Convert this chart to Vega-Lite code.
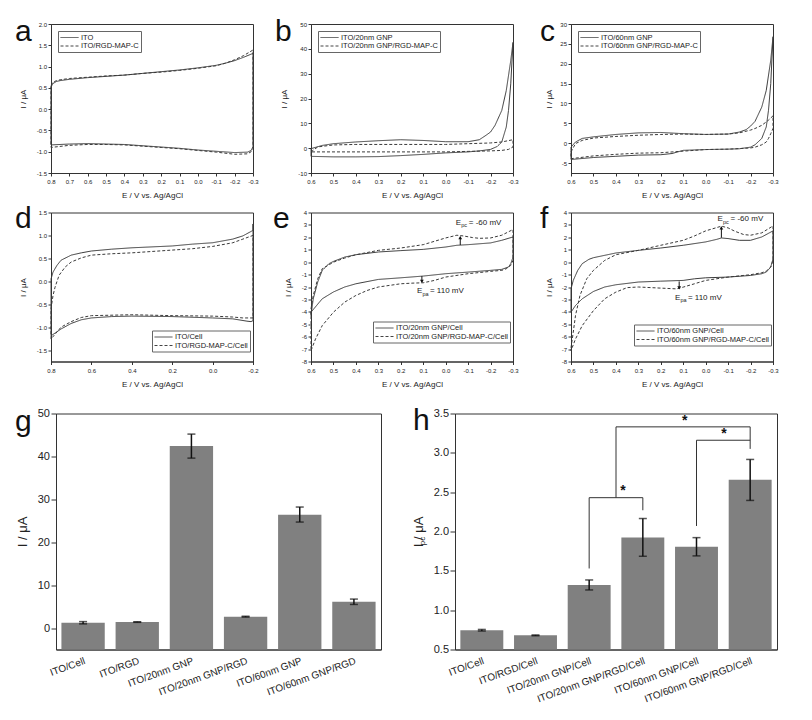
{
"$schema": "https://vega.github.io/schema/vega-lite/v6.json",
"padding": {"left": 14, "top": 16, "right": 0, "bottom": 0},
"background": "white",
"datasets": {
"a": [
{"s":"ITO","i":0,"E":0.8,"I":0.52},{"s":"ITO","i":1,"E":0.79,"I":0.6},{"s":"ITO","i":2,"E":0.77,"I":0.65},{"s":"ITO","i":3,"E":0.75,"I":0.67},{"s":"ITO","i":4,"E":0.7,"I":0.7},{"s":"ITO","i":5,"E":0.6,"I":0.74},{"s":"ITO","i":6,"E":0.5,"I":0.77},{"s":"ITO","i":7,"E":0.4,"I":0.8},{"s":"ITO","i":8,"E":0.3,"I":0.84},{"s":"ITO","i":9,"E":0.2,"I":0.88},{"s":"ITO","i":10,"E":0.1,"I":0.92},{"s":"ITO","i":11,"E":0.0,"I":0.97},{"s":"ITO","i":12,"E":-0.1,"I":1.03},{"s":"ITO","i":13,"E":-0.15,"I":1.08},{"s":"ITO","i":14,"E":-0.2,"I":1.14},{"s":"ITO","i":15,"E":-0.25,"I":1.22},{"s":"ITO","i":16,"E":-0.3,"I":1.31},{"s":"ITO","i":17,"E":-0.3,"I":-0.88},{"s":"ITO","i":18,"E":-0.29,"I":-0.97},{"s":"ITO","i":19,"E":-0.27,"I":-1.01},{"s":"ITO","i":20,"E":-0.2,"I":-1.02},{"s":"ITO","i":21,"E":-0.1,"I":-0.99},{"s":"ITO","i":22,"E":0.0,"I":-0.96},{"s":"ITO","i":23,"E":0.1,"I":-0.92},{"s":"ITO","i":24,"E":0.2,"I":-0.89},{"s":"ITO","i":25,"E":0.3,"I":-0.86},{"s":"ITO","i":26,"E":0.4,"I":-0.83},{"s":"ITO","i":27,"E":0.5,"I":-0.82},{"s":"ITO","i":28,"E":0.6,"I":-0.81},{"s":"ITO","i":29,"E":0.7,"I":-0.82},{"s":"ITO","i":30,"E":0.8,"I":-0.84},{"s":"ITO","i":31,"E":0.8,"I":0.52},
{"s":"ITO/RGD-MAP-C","i":0,"E":0.8,"I":0.56},{"s":"ITO/RGD-MAP-C","i":1,"E":0.79,"I":0.63},{"s":"ITO/RGD-MAP-C","i":2,"E":0.77,"I":0.67},{"s":"ITO/RGD-MAP-C","i":3,"E":0.75,"I":0.69},{"s":"ITO/RGD-MAP-C","i":4,"E":0.7,"I":0.72},{"s":"ITO/RGD-MAP-C","i":5,"E":0.6,"I":0.75},{"s":"ITO/RGD-MAP-C","i":6,"E":0.5,"I":0.78},{"s":"ITO/RGD-MAP-C","i":7,"E":0.4,"I":0.8},{"s":"ITO/RGD-MAP-C","i":8,"E":0.3,"I":0.84},{"s":"ITO/RGD-MAP-C","i":9,"E":0.2,"I":0.87},{"s":"ITO/RGD-MAP-C","i":10,"E":0.1,"I":0.91},{"s":"ITO/RGD-MAP-C","i":11,"E":0.0,"I":0.96},{"s":"ITO/RGD-MAP-C","i":12,"E":-0.1,"I":1.02},{"s":"ITO/RGD-MAP-C","i":13,"E":-0.15,"I":1.08},{"s":"ITO/RGD-MAP-C","i":14,"E":-0.2,"I":1.16},{"s":"ITO/RGD-MAP-C","i":15,"E":-0.25,"I":1.26},{"s":"ITO/RGD-MAP-C","i":16,"E":-0.3,"I":1.39},{"s":"ITO/RGD-MAP-C","i":17,"E":-0.3,"I":-0.92},{"s":"ITO/RGD-MAP-C","i":18,"E":-0.29,"I":-1.0},{"s":"ITO/RGD-MAP-C","i":19,"E":-0.27,"I":-1.05},{"s":"ITO/RGD-MAP-C","i":20,"E":-0.2,"I":-1.06},{"s":"ITO/RGD-MAP-C","i":21,"E":-0.1,"I":-1.01},{"s":"ITO/RGD-MAP-C","i":22,"E":0.0,"I":-0.97},{"s":"ITO/RGD-MAP-C","i":23,"E":0.1,"I":-0.93},{"s":"ITO/RGD-MAP-C","i":24,"E":0.2,"I":-0.9},{"s":"ITO/RGD-MAP-C","i":25,"E":0.3,"I":-0.87},{"s":"ITO/RGD-MAP-C","i":26,"E":0.4,"I":-0.84},{"s":"ITO/RGD-MAP-C","i":27,"E":0.5,"I":-0.83},{"s":"ITO/RGD-MAP-C","i":28,"E":0.6,"I":-0.83},{"s":"ITO/RGD-MAP-C","i":29,"E":0.7,"I":-0.85},{"s":"ITO/RGD-MAP-C","i":30,"E":0.8,"I":-0.9},{"s":"ITO/RGD-MAP-C","i":31,"E":0.8,"I":0.56}
],
"b": [
{"s":"ITO/20nm GNP","i":0,"E":0.6,"I":-0.2},{"s":"ITO/20nm GNP","i":1,"E":0.55,"I":1.1},{"s":"ITO/20nm GNP","i":2,"E":0.5,"I":1.8},{"s":"ITO/20nm GNP","i":3,"E":0.4,"I":2.5},{"s":"ITO/20nm GNP","i":4,"E":0.3,"I":3.0},{"s":"ITO/20nm GNP","i":5,"E":0.2,"I":3.4},{"s":"ITO/20nm GNP","i":6,"E":0.1,"I":3.1},{"s":"ITO/20nm GNP","i":7,"E":0.0,"I":2.6},{"s":"ITO/20nm GNP","i":8,"E":-0.1,"I":2.6},{"s":"ITO/20nm GNP","i":9,"E":-0.15,"I":3.4},{"s":"ITO/20nm GNP","i":10,"E":-0.18,"I":5.2},{"s":"ITO/20nm GNP","i":11,"E":-0.2,"I":6.5},{"s":"ITO/20nm GNP","i":12,"E":-0.22,"I":9.2},{"s":"ITO/20nm GNP","i":13,"E":-0.25,"I":15.2},{"s":"ITO/20nm GNP","i":14,"E":-0.27,"I":23.2},{"s":"ITO/20nm GNP","i":15,"E":-0.29,"I":35.3},{"s":"ITO/20nm GNP","i":16,"E":-0.3,"I":42.6},{"s":"ITO/20nm GNP","i":17,"E":-0.29,"I":25.9},{"s":"ITO/20nm GNP","i":18,"E":-0.28,"I":15.2},{"s":"ITO/20nm GNP","i":19,"E":-0.27,"I":8.5},{"s":"ITO/20nm GNP","i":20,"E":-0.25,"I":2.5},{"s":"ITO/20nm GNP","i":21,"E":-0.23,"I":0.7},{"s":"ITO/20nm GNP","i":22,"E":-0.2,"I":-0.5},{"s":"ITO/20nm GNP","i":23,"E":-0.15,"I":-1.1},{"s":"ITO/20nm GNP","i":24,"E":-0.1,"I":-1.5},{"s":"ITO/20nm GNP","i":25,"E":0.0,"I":-1.9},{"s":"ITO/20nm GNP","i":26,"E":0.1,"I":-2.5},{"s":"ITO/20nm GNP","i":27,"E":0.2,"I":-3.0},{"s":"ITO/20nm GNP","i":28,"E":0.3,"I":-3.4},{"s":"ITO/20nm GNP","i":29,"E":0.4,"I":-3.5},{"s":"ITO/20nm GNP","i":30,"E":0.5,"I":-3.5},{"s":"ITO/20nm GNP","i":31,"E":0.6,"I":-3.3},{"s":"ITO/20nm GNP","i":32,"E":0.6,"I":-0.2},
{"s":"ITO/20nm GNP/RGD-MAP-C","i":0,"E":0.6,"I":-1.5},{"s":"ITO/20nm GNP/RGD-MAP-C","i":1,"E":0.57,"I":0.5},{"s":"ITO/20nm GNP/RGD-MAP-C","i":2,"E":0.5,"I":1.3},{"s":"ITO/20nm GNP/RGD-MAP-C","i":3,"E":0.4,"I":1.5},{"s":"ITO/20nm GNP/RGD-MAP-C","i":4,"E":0.2,"I":1.5},{"s":"ITO/20nm GNP/RGD-MAP-C","i":5,"E":0.0,"I":1.5},{"s":"ITO/20nm GNP/RGD-MAP-C","i":6,"E":-0.1,"I":1.8},{"s":"ITO/20nm GNP/RGD-MAP-C","i":7,"E":-0.2,"I":2.1},{"s":"ITO/20nm GNP/RGD-MAP-C","i":8,"E":-0.25,"I":2.5},{"s":"ITO/20nm GNP/RGD-MAP-C","i":9,"E":-0.3,"I":3.4},{"s":"ITO/20nm GNP/RGD-MAP-C","i":10,"E":-0.3,"I":0.5},{"s":"ITO/20nm GNP/RGD-MAP-C","i":11,"E":-0.28,"I":-0.5},{"s":"ITO/20nm GNP/RGD-MAP-C","i":12,"E":-0.25,"I":-0.9},{"s":"ITO/20nm GNP/RGD-MAP-C","i":13,"E":-0.2,"I":-1.1},{"s":"ITO/20nm GNP/RGD-MAP-C","i":14,"E":-0.1,"I":-1.3},{"s":"ITO/20nm GNP/RGD-MAP-C","i":15,"E":0.0,"I":-1.5},{"s":"ITO/20nm GNP/RGD-MAP-C","i":16,"E":0.2,"I":-1.5},{"s":"ITO/20nm GNP/RGD-MAP-C","i":17,"E":0.4,"I":-1.5},{"s":"ITO/20nm GNP/RGD-MAP-C","i":18,"E":0.6,"I":-1.5}
],
"c": [
{"s":"ITO/60nm GNP","i":0,"E":0.6,"I":-1.0},{"s":"ITO/60nm GNP","i":1,"E":0.58,"I":0.3},{"s":"ITO/60nm GNP","i":2,"E":0.55,"I":1.2},{"s":"ITO/60nm GNP","i":3,"E":0.5,"I":1.6},{"s":"ITO/60nm GNP","i":4,"E":0.4,"I":2.2},{"s":"ITO/60nm GNP","i":5,"E":0.3,"I":2.6},{"s":"ITO/60nm GNP","i":6,"E":0.2,"I":2.7},{"s":"ITO/60nm GNP","i":7,"E":0.1,"I":2.4},{"s":"ITO/60nm GNP","i":8,"E":0.0,"I":2.2},{"s":"ITO/60nm GNP","i":9,"E":-0.1,"I":2.3},{"s":"ITO/60nm GNP","i":10,"E":-0.15,"I":2.8},{"s":"ITO/60nm GNP","i":11,"E":-0.18,"I":3.4},{"s":"ITO/60nm GNP","i":12,"E":-0.2,"I":4.3},{"s":"ITO/60nm GNP","i":13,"E":-0.22,"I":5.5},{"s":"ITO/60nm GNP","i":14,"E":-0.25,"I":9.1},{"s":"ITO/60nm GNP","i":15,"E":-0.27,"I":13.3},{"s":"ITO/60nm GNP","i":16,"E":-0.29,"I":20.9},{"s":"ITO/60nm GNP","i":17,"E":-0.3,"I":26.8},{"s":"ITO/60nm GNP","i":18,"E":-0.29,"I":15.0},{"s":"ITO/60nm GNP","i":19,"E":-0.28,"I":8.3},{"s":"ITO/60nm GNP","i":20,"E":-0.27,"I":4.1},{"s":"ITO/60nm GNP","i":21,"E":-0.25,"I":1.2},{"s":"ITO/60nm GNP","i":22,"E":-0.22,"I":-0.4},{"s":"ITO/60nm GNP","i":23,"E":-0.2,"I":-1.0},{"s":"ITO/60nm GNP","i":24,"E":-0.15,"I":-1.4},{"s":"ITO/60nm GNP","i":25,"E":-0.1,"I":-1.5},{"s":"ITO/60nm GNP","i":26,"E":0.0,"I":-1.6},{"s":"ITO/60nm GNP","i":27,"E":0.1,"I":-1.8},{"s":"ITO/60nm GNP","i":28,"E":0.15,"I":-2.6},{"s":"ITO/60nm GNP","i":29,"E":0.2,"I":-2.9},{"s":"ITO/60nm GNP","i":30,"E":0.3,"I":-3.0},{"s":"ITO/60nm GNP","i":31,"E":0.4,"I":-3.3},{"s":"ITO/60nm GNP","i":32,"E":0.5,"I":-3.6},{"s":"ITO/60nm GNP","i":33,"E":0.6,"I":-4.1},{"s":"ITO/60nm GNP","i":34,"E":0.6,"I":-1.0},
{"s":"ITO/60nm GNP/RGD-MAP-C","i":0,"E":0.6,"I":-2.2},{"s":"ITO/60nm GNP/RGD-MAP-C","i":1,"E":0.58,"I":-0.1},{"s":"ITO/60nm GNP/RGD-MAP-C","i":2,"E":0.55,"I":0.7},{"s":"ITO/60nm GNP/RGD-MAP-C","i":3,"E":0.5,"I":1.3},{"s":"ITO/60nm GNP/RGD-MAP-C","i":4,"E":0.4,"I":1.7},{"s":"ITO/60nm GNP/RGD-MAP-C","i":5,"E":0.3,"I":2.0},{"s":"ITO/60nm GNP/RGD-MAP-C","i":6,"E":0.2,"I":2.2},{"s":"ITO/60nm GNP/RGD-MAP-C","i":7,"E":0.1,"I":2.3},{"s":"ITO/60nm GNP/RGD-MAP-C","i":8,"E":0.0,"I":2.2},{"s":"ITO/60nm GNP/RGD-MAP-C","i":9,"E":-0.1,"I":2.3},{"s":"ITO/60nm GNP/RGD-MAP-C","i":10,"E":-0.15,"I":2.6},{"s":"ITO/60nm GNP/RGD-MAP-C","i":11,"E":-0.2,"I":3.3},{"s":"ITO/60nm GNP/RGD-MAP-C","i":12,"E":-0.22,"I":3.7},{"s":"ITO/60nm GNP/RGD-MAP-C","i":13,"E":-0.25,"I":4.5},{"s":"ITO/60nm GNP/RGD-MAP-C","i":14,"E":-0.28,"I":5.8},{"s":"ITO/60nm GNP/RGD-MAP-C","i":15,"E":-0.3,"I":6.9},{"s":"ITO/60nm GNP/RGD-MAP-C","i":16,"E":-0.3,"I":3.7},{"s":"ITO/60nm GNP/RGD-MAP-C","i":17,"E":-0.29,"I":2.4},{"s":"ITO/60nm GNP/RGD-MAP-C","i":18,"E":-0.28,"I":1.2},{"s":"ITO/60nm GNP/RGD-MAP-C","i":19,"E":-0.27,"I":0.3},{"s":"ITO/60nm GNP/RGD-MAP-C","i":20,"E":-0.25,"I":-0.4},{"s":"ITO/60nm GNP/RGD-MAP-C","i":21,"E":-0.22,"I":-1.0},{"s":"ITO/60nm GNP/RGD-MAP-C","i":22,"E":-0.2,"I":-1.2},{"s":"ITO/60nm GNP/RGD-MAP-C","i":23,"E":-0.1,"I":-1.5},{"s":"ITO/60nm GNP/RGD-MAP-C","i":24,"E":0.0,"I":-1.6},{"s":"ITO/60nm GNP/RGD-MAP-C","i":25,"E":0.1,"I":-2.0},{"s":"ITO/60nm GNP/RGD-MAP-C","i":26,"E":0.2,"I":-2.4},{"s":"ITO/60nm GNP/RGD-MAP-C","i":27,"E":0.3,"I":-2.5},{"s":"ITO/60nm GNP/RGD-MAP-C","i":28,"E":0.4,"I":-2.8},{"s":"ITO/60nm GNP/RGD-MAP-C","i":29,"E":0.5,"I":-3.2},{"s":"ITO/60nm GNP/RGD-MAP-C","i":30,"E":0.6,"I":-3.9},{"s":"ITO/60nm GNP/RGD-MAP-C","i":31,"E":0.6,"I":-2.2}
],
"d": [
{"s":"ITO/Cell","i":0,"E":0.8,"I":0.05},{"s":"ITO/Cell","i":1,"E":0.79,"I":0.2},{"s":"ITO/Cell","i":2,"E":0.77,"I":0.35},{"s":"ITO/Cell","i":3,"E":0.75,"I":0.46},{"s":"ITO/Cell","i":4,"E":0.7,"I":0.57},{"s":"ITO/Cell","i":5,"E":0.65,"I":0.62},{"s":"ITO/Cell","i":6,"E":0.6,"I":0.66},{"s":"ITO/Cell","i":7,"E":0.5,"I":0.7},{"s":"ITO/Cell","i":8,"E":0.4,"I":0.73},{"s":"ITO/Cell","i":9,"E":0.3,"I":0.75},{"s":"ITO/Cell","i":10,"E":0.2,"I":0.77},{"s":"ITO/Cell","i":11,"E":0.1,"I":0.81},{"s":"ITO/Cell","i":12,"E":0.0,"I":0.84},{"s":"ITO/Cell","i":13,"E":-0.1,"I":0.92},{"s":"ITO/Cell","i":14,"E":-0.15,"I":0.99},{"s":"ITO/Cell","i":15,"E":-0.2,"I":1.11},{"s":"ITO/Cell","i":16,"E":-0.2,"I":1.25},{"s":"ITO/Cell","i":17,"E":-0.2,"I":-0.86},{"s":"ITO/Cell","i":18,"E":-0.19,"I":-0.88},{"s":"ITO/Cell","i":19,"E":-0.17,"I":-0.87},{"s":"ITO/Cell","i":20,"E":-0.1,"I":-0.82},{"s":"ITO/Cell","i":21,"E":0.0,"I":-0.8},{"s":"ITO/Cell","i":22,"E":0.2,"I":-0.77},{"s":"ITO/Cell","i":23,"E":0.4,"I":-0.76},{"s":"ITO/Cell","i":24,"E":0.5,"I":-0.77},{"s":"ITO/Cell","i":25,"E":0.6,"I":-0.8},{"s":"ITO/Cell","i":26,"E":0.65,"I":-0.84},{"s":"ITO/Cell","i":27,"E":0.7,"I":-0.92},{"s":"ITO/Cell","i":28,"E":0.75,"I":-1.04},{"s":"ITO/Cell","i":29,"E":0.8,"I":-1.19},{"s":"ITO/Cell","i":30,"E":0.8,"I":0.05},
{"s":"ITO/RGD-MAP-C/Cell","i":0,"E":0.8,"I":-0.6},{"s":"ITO/RGD-MAP-C/Cell","i":1,"E":0.79,"I":-0.31},{"s":"ITO/RGD-MAP-C/Cell","i":2,"E":0.78,"I":-0.13},{"s":"ITO/RGD-MAP-C/Cell","i":3,"E":0.76,"I":0.13},{"s":"ITO/RGD-MAP-C/Cell","i":4,"E":0.73,"I":0.31},{"s":"ITO/RGD-MAP-C/Cell","i":5,"E":0.7,"I":0.42},{"s":"ITO/RGD-MAP-C/Cell","i":6,"E":0.65,"I":0.51},{"s":"ITO/RGD-MAP-C/Cell","i":7,"E":0.6,"I":0.57},{"s":"ITO/RGD-MAP-C/Cell","i":8,"E":0.5,"I":0.6},{"s":"ITO/RGD-MAP-C/Cell","i":9,"E":0.4,"I":0.62},{"s":"ITO/RGD-MAP-C/Cell","i":10,"E":0.3,"I":0.65},{"s":"ITO/RGD-MAP-C/Cell","i":11,"E":0.2,"I":0.68},{"s":"ITO/RGD-MAP-C/Cell","i":12,"E":0.1,"I":0.71},{"s":"ITO/RGD-MAP-C/Cell","i":13,"E":0.0,"I":0.76},{"s":"ITO/RGD-MAP-C/Cell","i":14,"E":-0.1,"I":0.84},{"s":"ITO/RGD-MAP-C/Cell","i":15,"E":-0.15,"I":0.92},{"s":"ITO/RGD-MAP-C/Cell","i":16,"E":-0.2,"I":1.0},{"s":"ITO/RGD-MAP-C/Cell","i":17,"E":-0.2,"I":-0.8},{"s":"ITO/RGD-MAP-C/Cell","i":18,"E":-0.15,"I":-0.8},{"s":"ITO/RGD-MAP-C/Cell","i":19,"E":-0.1,"I":-0.78},{"s":"ITO/RGD-MAP-C/Cell","i":20,"E":0.0,"I":-0.76},{"s":"ITO/RGD-MAP-C/Cell","i":21,"E":0.2,"I":-0.75},{"s":"ITO/RGD-MAP-C/Cell","i":22,"E":0.4,"I":-0.73},{"s":"ITO/RGD-MAP-C/Cell","i":23,"E":0.6,"I":-0.75},{"s":"ITO/RGD-MAP-C/Cell","i":24,"E":0.65,"I":-0.79},{"s":"ITO/RGD-MAP-C/Cell","i":25,"E":0.7,"I":-0.88},{"s":"ITO/RGD-MAP-C/Cell","i":26,"E":0.75,"I":-1.0},{"s":"ITO/RGD-MAP-C/Cell","i":27,"E":0.8,"I":-1.26},{"s":"ITO/RGD-MAP-C/Cell","i":28,"E":0.8,"I":-0.6}
],
"e": [
{"s":"ITO/20nm GNP/Cell","i":0,"E":0.6,"I":-4.3},{"s":"ITO/20nm GNP/Cell","i":1,"E":0.59,"I":-2.95},{"s":"ITO/20nm GNP/Cell","i":2,"E":0.57,"I":-1.6},{"s":"ITO/20nm GNP/Cell","i":3,"E":0.55,"I":-0.66},{"s":"ITO/20nm GNP/Cell","i":4,"E":0.52,"I":-0.12},{"s":"ITO/20nm GNP/Cell","i":5,"E":0.5,"I":0.06},{"s":"ITO/20nm GNP/Cell","i":6,"E":0.45,"I":0.41},{"s":"ITO/20nm GNP/Cell","i":7,"E":0.4,"I":0.6},{"s":"ITO/20nm GNP/Cell","i":8,"E":0.3,"I":0.82},{"s":"ITO/20nm GNP/Cell","i":9,"E":0.2,"I":0.93},{"s":"ITO/20nm GNP/Cell","i":10,"E":0.1,"I":1.03},{"s":"ITO/20nm GNP/Cell","i":11,"E":0.0,"I":1.22},{"s":"ITO/20nm GNP/Cell","i":12,"E":-0.05,"I":1.36},{"s":"ITO/20nm GNP/Cell","i":13,"E":-0.1,"I":1.41},{"s":"ITO/20nm GNP/Cell","i":14,"E":-0.2,"I":1.55},{"s":"ITO/20nm GNP/Cell","i":15,"E":-0.25,"I":1.76},{"s":"ITO/20nm GNP/Cell","i":16,"E":-0.3,"I":2.03},{"s":"ITO/20nm GNP/Cell","i":17,"E":-0.3,"I":0.41},{"s":"ITO/20nm GNP/Cell","i":18,"E":-0.29,"I":-0.12},{"s":"ITO/20nm GNP/Cell","i":19,"E":-0.28,"I":-0.39},{"s":"ITO/20nm GNP/Cell","i":20,"E":-0.25,"I":-0.58},{"s":"ITO/20nm GNP/Cell","i":21,"E":-0.2,"I":-0.66},{"s":"ITO/20nm GNP/Cell","i":22,"E":-0.1,"I":-0.8},{"s":"ITO/20nm GNP/Cell","i":23,"E":0.0,"I":-0.93},{"s":"ITO/20nm GNP/Cell","i":24,"E":0.1,"I":-1.12},{"s":"ITO/20nm GNP/Cell","i":25,"E":0.2,"I":-1.26},{"s":"ITO/20nm GNP/Cell","i":26,"E":0.3,"I":-1.39},{"s":"ITO/20nm GNP/Cell","i":27,"E":0.4,"I":-1.74},{"s":"ITO/20nm GNP/Cell","i":28,"E":0.45,"I":-2.0},{"s":"ITO/20nm GNP/Cell","i":29,"E":0.5,"I":-2.4},{"s":"ITO/20nm GNP/Cell","i":30,"E":0.55,"I":-2.95},{"s":"ITO/20nm GNP/Cell","i":31,"E":0.6,"I":-4.03},{"s":"ITO/20nm GNP/Cell","i":32,"E":0.6,"I":-4.3},
{"s":"ITO/20nm GNP/RGD-MAP-C/Cell","i":0,"E":0.6,"I":-3.76},{"s":"ITO/20nm GNP/RGD-MAP-C/Cell","i":1,"E":0.59,"I":-2.68},{"s":"ITO/20nm GNP/RGD-MAP-C/Cell","i":2,"E":0.57,"I":-1.34},{"s":"ITO/20nm GNP/RGD-MAP-C/Cell","i":3,"E":0.55,"I":-0.53},{"s":"ITO/20nm GNP/RGD-MAP-C/Cell","i":4,"E":0.5,"I":0.0},{"s":"ITO/20nm GNP/RGD-MAP-C/Cell","i":5,"E":0.45,"I":0.33},{"s":"ITO/20nm GNP/RGD-MAP-C/Cell","i":6,"E":0.4,"I":0.6},{"s":"ITO/20nm GNP/RGD-MAP-C/Cell","i":7,"E":0.3,"I":0.95},{"s":"ITO/20nm GNP/RGD-MAP-C/Cell","i":8,"E":0.2,"I":1.14},{"s":"ITO/20nm GNP/RGD-MAP-C/Cell","i":9,"E":0.1,"I":1.41},{"s":"ITO/20nm GNP/RGD-MAP-C/Cell","i":10,"E":0.05,"I":1.68},{"s":"ITO/20nm GNP/RGD-MAP-C/Cell","i":11,"E":0.0,"I":1.95},{"s":"ITO/20nm GNP/RGD-MAP-C/Cell","i":12,"E":-0.05,"I":2.17},{"s":"ITO/20nm GNP/RGD-MAP-C/Cell","i":13,"E":-0.08,"I":2.11},{"s":"ITO/20nm GNP/RGD-MAP-C/Cell","i":14,"E":-0.12,"I":1.98},{"s":"ITO/20nm GNP/RGD-MAP-C/Cell","i":15,"E":-0.15,"I":1.92},{"s":"ITO/20nm GNP/RGD-MAP-C/Cell","i":16,"E":-0.2,"I":1.95},{"s":"ITO/20nm GNP/RGD-MAP-C/Cell","i":17,"E":-0.25,"I":2.17},{"s":"ITO/20nm GNP/RGD-MAP-C/Cell","i":18,"E":-0.3,"I":2.63},{"s":"ITO/20nm GNP/RGD-MAP-C/Cell","i":19,"E":-0.3,"I":0.14},{"s":"ITO/20nm GNP/RGD-MAP-C/Cell","i":20,"E":-0.29,"I":-0.26},{"s":"ITO/20nm GNP/RGD-MAP-C/Cell","i":21,"E":-0.27,"I":-0.53},{"s":"ITO/20nm GNP/RGD-MAP-C/Cell","i":22,"E":-0.25,"I":-0.66},{"s":"ITO/20nm GNP/RGD-MAP-C/Cell","i":23,"E":-0.2,"I":-0.74},{"s":"ITO/20nm GNP/RGD-MAP-C/Cell","i":24,"E":-0.1,"I":-0.93},{"s":"ITO/20nm GNP/RGD-MAP-C/Cell","i":25,"E":0.0,"I":-1.2},{"s":"ITO/20nm GNP/RGD-MAP-C/Cell","i":26,"E":0.05,"I":-1.47},{"s":"ITO/20nm GNP/RGD-MAP-C/Cell","i":27,"E":0.1,"I":-1.66},{"s":"ITO/20nm GNP/RGD-MAP-C/Cell","i":28,"E":0.15,"I":-1.69},{"s":"ITO/20nm GNP/RGD-MAP-C/Cell","i":29,"E":0.2,"I":-1.74},{"s":"ITO/20nm GNP/RGD-MAP-C/Cell","i":30,"E":0.3,"I":-2.0},{"s":"ITO/20nm GNP/RGD-MAP-C/Cell","i":31,"E":0.35,"I":-2.28},{"s":"ITO/20nm GNP/RGD-MAP-C/Cell","i":32,"E":0.4,"I":-2.68},{"s":"ITO/20nm GNP/RGD-MAP-C/Cell","i":33,"E":0.45,"I":-3.22},{"s":"ITO/20nm GNP/RGD-MAP-C/Cell","i":34,"E":0.5,"I":-4.03},{"s":"ITO/20nm GNP/RGD-MAP-C/Cell","i":35,"E":0.55,"I":-5.11},{"s":"ITO/20nm GNP/RGD-MAP-C/Cell","i":36,"E":0.58,"I":-6.19},{"s":"ITO/20nm GNP/RGD-MAP-C/Cell","i":37,"E":0.6,"I":-7.13},{"s":"ITO/20nm GNP/RGD-MAP-C/Cell","i":38,"E":0.6,"I":-3.76}
],
"f": [
{"s":"ITO/60nm GNP/Cell","i":0,"E":0.6,"I":-2.15},{"s":"ITO/60nm GNP/Cell","i":1,"E":0.59,"I":-1.47},{"s":"ITO/60nm GNP/Cell","i":2,"E":0.57,"I":-0.66},{"s":"ITO/60nm GNP/Cell","i":3,"E":0.55,"I":-0.12},{"s":"ITO/60nm GNP/Cell","i":4,"E":0.52,"I":0.23},{"s":"ITO/60nm GNP/Cell","i":5,"E":0.5,"I":0.36},{"s":"ITO/60nm GNP/Cell","i":6,"E":0.45,"I":0.55},{"s":"ITO/60nm GNP/Cell","i":7,"E":0.4,"I":0.74},{"s":"ITO/60nm GNP/Cell","i":8,"E":0.3,"I":0.95},{"s":"ITO/60nm GNP/Cell","i":9,"E":0.2,"I":1.14},{"s":"ITO/60nm GNP/Cell","i":10,"E":0.1,"I":1.36},{"s":"ITO/60nm GNP/Cell","i":11,"E":0.0,"I":1.63},{"s":"ITO/60nm GNP/Cell","i":12,"E":-0.05,"I":1.84},{"s":"ITO/60nm GNP/Cell","i":13,"E":-0.07,"I":1.95},{"s":"ITO/60nm GNP/Cell","i":14,"E":-0.1,"I":1.9},{"s":"ITO/60nm GNP/Cell","i":15,"E":-0.15,"I":1.76},{"s":"ITO/60nm GNP/Cell","i":16,"E":-0.2,"I":1.76},{"s":"ITO/60nm GNP/Cell","i":17,"E":-0.25,"I":2.03},{"s":"ITO/60nm GNP/Cell","i":18,"E":-0.3,"I":2.52},{"s":"ITO/60nm GNP/Cell","i":19,"E":-0.3,"I":0.28},{"s":"ITO/60nm GNP/Cell","i":20,"E":-0.29,"I":-0.39},{"s":"ITO/60nm GNP/Cell","i":21,"E":-0.27,"I":-0.8},{"s":"ITO/60nm GNP/Cell","i":22,"E":-0.25,"I":-0.93},{"s":"ITO/60nm GNP/Cell","i":23,"E":-0.2,"I":-1.07},{"s":"ITO/60nm GNP/Cell","i":24,"E":-0.1,"I":-1.2},{"s":"ITO/60nm GNP/Cell","i":25,"E":0.0,"I":-1.26},{"s":"ITO/60nm GNP/Cell","i":26,"E":0.05,"I":-1.34},{"s":"ITO/60nm GNP/Cell","i":27,"E":0.1,"I":-1.47},{"s":"ITO/60nm GNP/Cell","i":28,"E":0.2,"I":-1.53},{"s":"ITO/60nm GNP/Cell","i":29,"E":0.3,"I":-1.6},{"s":"ITO/60nm GNP/Cell","i":30,"E":0.4,"I":-1.82},{"s":"ITO/60nm GNP/Cell","i":31,"E":0.45,"I":-2.0},{"s":"ITO/60nm GNP/Cell","i":32,"E":0.5,"I":-2.36},{"s":"ITO/60nm GNP/Cell","i":33,"E":0.55,"I":-2.95},{"s":"ITO/60nm GNP/Cell","i":34,"E":0.58,"I":-3.49},{"s":"ITO/60nm GNP/Cell","i":35,"E":0.6,"I":-4.03},{"s":"ITO/60nm GNP/Cell","i":36,"E":0.6,"I":-2.15},
{"s":"ITO/60nm GNP/RGD-MAP-C/Cell","i":0,"E":0.6,"I":-6.9},{"s":"ITO/60nm GNP/RGD-MAP-C/Cell","i":1,"E":0.59,"I":-5.65},{"s":"ITO/60nm GNP/RGD-MAP-C/Cell","i":2,"E":0.58,"I":-4.3},{"s":"ITO/60nm GNP/RGD-MAP-C/Cell","i":3,"E":0.56,"I":-2.68},{"s":"ITO/60nm GNP/RGD-MAP-C/Cell","i":4,"E":0.53,"I":-1.34},{"s":"ITO/60nm GNP/RGD-MAP-C/Cell","i":5,"E":0.5,"I":-0.66},{"s":"ITO/60nm GNP/RGD-MAP-C/Cell","i":6,"E":0.45,"I":0.14},{"s":"ITO/60nm GNP/RGD-MAP-C/Cell","i":7,"E":0.4,"I":0.6},{"s":"ITO/60nm GNP/RGD-MAP-C/Cell","i":8,"E":0.3,"I":0.95},{"s":"ITO/60nm GNP/RGD-MAP-C/Cell","i":9,"E":0.2,"I":1.36},{"s":"ITO/60nm GNP/RGD-MAP-C/Cell","i":10,"E":0.1,"I":1.76},{"s":"ITO/60nm GNP/RGD-MAP-C/Cell","i":11,"E":0.05,"I":2.11},{"s":"ITO/60nm GNP/RGD-MAP-C/Cell","i":12,"E":0.0,"I":2.52},{"s":"ITO/60nm GNP/RGD-MAP-C/Cell","i":13,"E":-0.05,"I":2.79},{"s":"ITO/60nm GNP/RGD-MAP-C/Cell","i":14,"E":-0.07,"I":2.9},{"s":"ITO/60nm GNP/RGD-MAP-C/Cell","i":15,"E":-0.1,"I":2.76},{"s":"ITO/60nm GNP/RGD-MAP-C/Cell","i":16,"E":-0.13,"I":2.49},{"s":"ITO/60nm GNP/RGD-MAP-C/Cell","i":17,"E":-0.17,"I":2.22},{"s":"ITO/60nm GNP/RGD-MAP-C/Cell","i":18,"E":-0.2,"I":2.17},{"s":"ITO/60nm GNP/RGD-MAP-C/Cell","i":19,"E":-0.25,"I":2.36},{"s":"ITO/60nm GNP/RGD-MAP-C/Cell","i":20,"E":-0.3,"I":2.92},{"s":"ITO/60nm GNP/RGD-MAP-C/Cell","i":21,"E":-0.3,"I":0.14},{"s":"ITO/60nm GNP/RGD-MAP-C/Cell","i":22,"E":-0.29,"I":-0.39},{"s":"ITO/60nm GNP/RGD-MAP-C/Cell","i":23,"E":-0.27,"I":-0.72},{"s":"ITO/60nm GNP/RGD-MAP-C/Cell","i":24,"E":-0.25,"I":-0.85},{"s":"ITO/60nm GNP/RGD-MAP-C/Cell","i":25,"E":-0.2,"I":-1.01},{"s":"ITO/60nm GNP/RGD-MAP-C/Cell","i":26,"E":-0.1,"I":-1.2},{"s":"ITO/60nm GNP/RGD-MAP-C/Cell","i":27,"E":0.0,"I":-1.47},{"s":"ITO/60nm GNP/RGD-MAP-C/Cell","i":28,"E":0.05,"I":-1.74},{"s":"ITO/60nm GNP/RGD-MAP-C/Cell","i":29,"E":0.1,"I":-2.01},{"s":"ITO/60nm GNP/RGD-MAP-C/Cell","i":30,"E":0.13,"I":-2.15},{"s":"ITO/60nm GNP/RGD-MAP-C/Cell","i":31,"E":0.2,"I":-2.09},{"s":"ITO/60nm GNP/RGD-MAP-C/Cell","i":32,"E":0.3,"I":-2.0},{"s":"ITO/60nm GNP/RGD-MAP-C/Cell","i":33,"E":0.35,"I":-2.05},{"s":"ITO/60nm GNP/RGD-MAP-C/Cell","i":34,"E":0.4,"I":-2.41},{"s":"ITO/60nm GNP/RGD-MAP-C/Cell","i":35,"E":0.45,"I":-2.95},{"s":"ITO/60nm GNP/RGD-MAP-C/Cell","i":36,"E":0.5,"I":-3.9},{"s":"ITO/60nm GNP/RGD-MAP-C/Cell","i":37,"E":0.55,"I":-5.11},{"s":"ITO/60nm GNP/RGD-MAP-C/Cell","i":38,"E":0.58,"I":-6.19},{"s":"ITO/60nm GNP/RGD-MAP-C/Cell","i":39,"E":0.6,"I":-7.13},{"s":"ITO/60nm GNP/RGD-MAP-C/Cell","i":40,"E":0.6,"I":-6.9}
],
"arr_e": [{"x":-0.065,"y":1.38,"y2":2.04,"hy":1.98,"d":"up"},{"x":0.106,"y":-1.12,"y2":-1.6,"hy":-1.54,"d":"down"}],
"arr_f": [{"x":-0.07,"y":1.97,"y2":2.84,"hy":2.77,"d":"up"},{"x":0.118,"y":-1.55,"y2":-2.14,"hy":-2.07,"d":"down"}],
"ann_e": [{"x":-0.045,"y":3.19,"m":"E","sub":"pc","r":"= -60 mV"},{"x":0.128,"y":-2.36,"m":"E","sub":"pa","r":"= 110 mV"}],
"ann_f": [{"x":-0.053,"y":3.46,"m":"E","sub":"pc","r":"= -60 mV"},{"x":0.137,"y":-2.87,"m":"E","sub":"pa","r":"= 110 mV"}],
"g": [
{"c":"ITO/Cell","v":1.25,"lo":0.97,"hi":1.5},
{"c":"ITO/RGD","v":1.4,"lo":1.33,"hi":1.47},
{"c":"ITO/20nm GNP","v":42.4,"lo":39.6,"hi":45.2},
{"c":"ITO/20nm GNP/RGD","v":2.65,"lo":2.55,"hi":2.75},
{"c":"ITO/60nm GNP","v":26.4,"lo":24.7,"hi":28.2},
{"c":"ITO/60nm GNP/RGD","v":6.1,"lo":5.5,"hi":6.75}
],
"h": [
{"c":"ITO/Cell","v":0.745,"lo":0.735,"hi":0.755},
{"c":"ITO/RGD/Cell","v":0.68,"lo":0.675,"hi":0.685},
{"c":"ITO/20nm GNP/Cell","v":1.32,"lo":1.257,"hi":1.384},
{"c":"ITO/20nm GNP/RGD/Cell","v":1.925,"lo":1.685,"hi":2.165},
{"c":"ITO/60nm GNP/Cell","v":1.807,"lo":1.69,"hi":1.922},
{"c":"ITO/60nm GNP/RGD/Cell","v":2.658,"lo":2.395,"hi":2.916}
],
"hb": [
{"x":2.5,"x2":2.5,"y":1.53,"y2":2.43},{"x":2.5,"x2":3.5,"y":2.43,"y2":2.43},{"x":3.5,"x2":3.5,"y":2.43,"y2":2.27},
{"x":3.0,"x2":3.0,"y":2.43,"y2":3.33},{"x":3.0,"x2":5.5,"y":3.33,"y2":3.33},{"x":5.5,"x2":5.5,"y":3.33,"y2":3.05},
{"x":4.5,"x2":4.5,"y":2.07,"y2":3.16},{"x":4.5,"x2":5.5,"y":3.16,"y2":3.16}
],
"hs": [{"x":3.13,"y":2.5,"t":"*"},{"x":4.28,"y":3.39,"t":"*"},{"x":5.01,"y":3.23,"t":"*"}],
"hp": [{"x":-0.59,"y":1.88,"t":"pc"}]
},
"vconcat": [
{"vconcat": [
{"hconcat": [
{"width":202,"height":149,"title":{"text":"a","dx":-36,"dy":30},"data":{"name":"a"},
"mark":{"type":"line","strokeWidth":1,"color":"#3a3a3a"},
"encoding":{
"x":{"field":"E","type":"quantitative","scale":{"domain":[-0.3,0.8],"reverse":true,"nice":false,"zero":false},"axis":{"title":"E / V vs. Ag/AgCl","values":[-0.3,-0.2,-0.1,0,0.1,0.2,0.3,0.4,0.5,0.6,0.7,0.8],"format":".1f"}},
"y":{"field":"I","type":"quantitative","scale":{"domain":[-1.5,2],"nice":false,"zero":false},"axis":{"title":"I / μA","values":[-1.5,-1,-0.5,0,0.5,1,1.5,2],"format":".1f"}},
"strokeDash":{"field":"s","type":"nominal","scale":{"domain":["ITO","ITO/RGD-MAP-C"],"range":[[1,0],[3,2]]},"legend":{"title":null,"orient":"top-left","offset":7}},
"order":{"field":"i"}}},
{"width":202,"height":149,"title":{"text":"b","dx":-36,"dy":30},"data":{"name":"b"},
"mark":{"type":"line","strokeWidth":1,"color":"#3a3a3a"},
"encoding":{
"x":{"field":"E","type":"quantitative","scale":{"domain":[-0.3,0.6],"reverse":true,"nice":false,"zero":false},"axis":{"title":"E / V vs. Ag/AgCl","values":[-0.3,-0.2,-0.1,0,0.1,0.2,0.3,0.4,0.5,0.6],"format":".1f"}},
"y":{"field":"I","type":"quantitative","scale":{"domain":[-10,50],"nice":false,"zero":false},"axis":{"title":"I / μA","values":[-10,0,10,20,30,40,50],"format":"d"}},
"strokeDash":{"field":"s","type":"nominal","scale":{"domain":["ITO/20nm GNP","ITO/20nm GNP/RGD-MAP-C"],"range":[[1,0],[3,2]]},"legend":{"title":null,"orient":"top-left","offset":7}},
"order":{"field":"i"}}},
{"width":202,"height":149,"title":{"text":"c","dx":-31,"dy":30},"data":{"name":"c"},
"mark":{"type":"line","strokeWidth":1,"color":"#3a3a3a"},
"encoding":{
"x":{"field":"E","type":"quantitative","scale":{"domain":[-0.3,0.6],"reverse":true,"nice":false,"zero":false},"axis":{"title":"E / V vs. Ag/AgCl","values":[-0.3,-0.2,-0.1,0,0.1,0.2,0.3,0.4,0.5,0.6],"format":".1f"}},
"y":{"field":"I","type":"quantitative","scale":{"domain":[-7.5,30],"nice":false,"zero":false},"axis":{"title":"I / μA","values":[-5,0,5,10,15,20,25,30],"format":"d","titlePadding":6}},
"strokeDash":{"field":"s","type":"nominal","scale":{"domain":["ITO/60nm GNP","ITO/60nm GNP/RGD-MAP-C"],"range":[[1,0],[3,2]]},"legend":{"title":null,"orient":"top-left","offset":7}},
"order":{"field":"i"}}}
],"spacing":58,"bounds":"flush","resolve":{"scale":{"strokeDash":"independent"}}},
{"hconcat": [
{"width":202,"height":149,"title":{"text":"d","dx":-36,"dy":28},"data":{"name":"d"},
"mark":{"type":"line","strokeWidth":1,"color":"#3a3a3a"},
"encoding":{
"x":{"field":"E","type":"quantitative","scale":{"domain":[-0.2,0.8],"reverse":true,"nice":false,"zero":false},"axis":{"title":"E / V vs. Ag/AgCl","values":[-0.2,0,0.2,0.4,0.6,0.8],"format":".1f"}},
"y":{"field":"I","type":"quantitative","scale":{"domain":[-1.75,1.5],"nice":false,"zero":false},"axis":{"title":"I / μA","values":[-1.5,-1,-0.5,0,0.5,1,1.5],"format":".1f"}},
"strokeDash":{"field":"s","type":"nominal","scale":{"domain":["ITO/Cell","ITO/RGD-MAP-C/Cell"],"range":[[1,0],[3,2]]},"legend":{"title":null,"orient":"none","legendX":101,"legendY":118}},
"order":{"field":"i"}}},
{"width":202,"height":149,"title":{"text":"e","dx":-38,"dy":28},
"encoding":{
"x":{"field":"E","type":"quantitative","scale":{"domain":[-0.3,0.6],"reverse":true,"nice":false,"zero":false},"axis":{"title":"E / V vs. Ag/AgCl","values":[-0.3,-0.2,-0.1,0,0.1,0.2,0.3,0.4,0.5,0.6],"format":".1f"}},
"y":{"field":"I","type":"quantitative","scale":{"domain":[-8,4],"nice":false,"zero":false},"axis":{"title":"I / μA","values":[-8,-7,-6,-5,-4,-3,-2,-1,0,1,2,3,4],"format":"d"}}},
"layer":[
{"data":{"name":"e"},"mark":{"type":"line","strokeWidth":1,"color":"#3a3a3a"},
"encoding":{"strokeDash":{"field":"s","type":"nominal","scale":{"domain":["ITO/20nm GNP/Cell","ITO/20nm GNP/RGD-MAP-C/Cell"],"range":[[1,0],[3,2]]},"legend":{"title":null,"orient":"none","legendX":62,"legendY":109}},"order":{"field":"i"}}},
{"data":{"name":"arr_e"},"mark":{"type":"rule","strokeWidth":1,"color":"#111"},"encoding":{"x":{"field":"x","type":"quantitative"},"y":{"field":"y","type":"quantitative"},"y2":{"field":"y2"}}},
{"data":{"name":"arr_e"},"mark":{"type":"point","filled":true,"size":14,"color":"#111","opacity":1},"encoding":{"x":{"field":"x","type":"quantitative"},"y":{"field":"hy","type":"quantitative"},"shape":{"field":"d","type":"nominal","scale":{"domain":["up","down"],"range":["triangle-up","triangle-down"]},"legend":null}}},
{"data":{"name":"ann_e"},"mark":{"type":"text","fontSize":8,"align":"left","baseline":"middle","color":"#222"},"encoding":{"x":{"field":"x","type":"quantitative"},"y":{"field":"y","type":"quantitative"},"text":{"field":"m"}}},
{"data":{"name":"ann_e"},"mark":{"type":"text","fontSize":5.5,"align":"left","baseline":"middle","dx":5.5,"dy":2.5,"color":"#222"},"encoding":{"x":{"field":"x","type":"quantitative"},"y":{"field":"y","type":"quantitative"},"text":{"field":"sub"}}},
{"data":{"name":"ann_e"},"mark":{"type":"text","fontSize":8,"align":"left","baseline":"middle","dx":13,"color":"#222"},"encoding":{"x":{"field":"x","type":"quantitative"},"y":{"field":"y","type":"quantitative"},"text":{"field":"r"}}}
]},
{"width":202,"height":149,"title":{"text":"f","dx":-31,"dy":28},
"encoding":{
"x":{"field":"E","type":"quantitative","scale":{"domain":[-0.3,0.6],"reverse":true,"nice":false,"zero":false},"axis":{"title":"E / V vs. Ag/AgCl","values":[-0.3,-0.2,-0.1,0,0.1,0.2,0.3,0.4,0.5,0.6],"format":".1f"}},
"y":{"field":"I","type":"quantitative","scale":{"domain":[-8,4],"nice":false,"zero":false},"axis":{"title":"I / μA","values":[-8,-7,-6,-5,-4,-3,-2,-1,0,1,2,3,4],"format":"d","titlePadding":8}}},
"layer":[
{"data":{"name":"f"},"mark":{"type":"line","strokeWidth":1,"color":"#3a3a3a"},
"encoding":{"strokeDash":{"field":"s","type":"nominal","scale":{"domain":["ITO/60nm GNP/Cell","ITO/60nm GNP/RGD-MAP-C/Cell"],"range":[[1,0],[3,2]]},"legend":{"title":null,"orient":"none","legendX":63,"legendY":112}},"order":{"field":"i"}}},
{"data":{"name":"arr_f"},"mark":{"type":"rule","strokeWidth":1,"color":"#111"},"encoding":{"x":{"field":"x","type":"quantitative"},"y":{"field":"y","type":"quantitative"},"y2":{"field":"y2"}}},
{"data":{"name":"arr_f"},"mark":{"type":"point","filled":true,"size":14,"color":"#111","opacity":1},"encoding":{"x":{"field":"x","type":"quantitative"},"y":{"field":"hy","type":"quantitative"},"shape":{"field":"d","type":"nominal","scale":{"domain":["up","down"],"range":["triangle-up","triangle-down"]},"legend":null}}},
{"data":{"name":"ann_f"},"mark":{"type":"text","fontSize":8,"align":"left","baseline":"middle","color":"#222"},"encoding":{"x":{"field":"x","type":"quantitative"},"y":{"field":"y","type":"quantitative"},"text":{"field":"m"}}},
{"data":{"name":"ann_f"},"mark":{"type":"text","fontSize":5.5,"align":"left","baseline":"middle","dx":5.5,"dy":2.5,"color":"#222"},"encoding":{"x":{"field":"x","type":"quantitative"},"y":{"field":"y","type":"quantitative"},"text":{"field":"sub"}}},
{"data":{"name":"ann_f"},"mark":{"type":"text","fontSize":8,"align":"left","baseline":"middle","dx":13,"color":"#222"},"encoding":{"x":{"field":"x","type":"quantitative"},"y":{"field":"y","type":"quantitative"},"text":{"field":"r"}}}
]}
],"spacing":58,"bounds":"flush","resolve":{"scale":{"strokeDash":"independent"}}}
],"spacing":2.5,"bounds":"full","resolve":{"scale":{"strokeDash":"independent"}}},
{"hconcat": [
{"width":5,"height":236,"data":{"values":[]},"mark":"point","view":{"stroke":null}},
{"hconcat": [
{"width":325,"height":236,"title":{"text":"g","dx":-41,"dy":33},"data":{"name":"g"},
"encoding":{"x":{"field":"c","type":"nominal","sort":null,"scale":{"paddingInner":0.2,"paddingOuter":0.1},"axis":{"title":null,"labelAngle":-20,"labelFontSize":10,"ticks":false,"labelPadding":6}}},
"layer":[
{"mark":{"type":"bar","color":"#808080"},"encoding":{"y":{"field":"v","type":"quantitative","scale":{"domain":[-5,50],"nice":false,"zero":false},"axis":{"title":"I / μA","values":[0,10,20,30,40,50],"labelFontSize":11,"titleFontSize":13,"tickSize":5,"titlePadding":8,"labelOverlap":false}},"y2":{"datum":-5}}},
{"mark":{"type":"rule","color":"#111","strokeWidth":1.5},"encoding":{"y":{"field":"lo","type":"quantitative"},"y2":{"field":"hi"}}},
{"mark":{"type":"tick","color":"#111","thickness":1.5,"size":8},"encoding":{"y":{"field":"lo","type":"quantitative"}}},
{"mark":{"type":"tick","color":"#111","thickness":1.5,"size":8},"encoding":{"y":{"field":"hi","type":"quantitative"}}}
]},
{"width":322,"height":236,"title":{"text":"h","dx":-42,"dy":32},
"layer":[
{"data":{"name":"h"},
"encoding":{"x":{"field":"c","type":"nominal","sort":null,"scale":{"paddingInner":0.2,"paddingOuter":0.1},"axis":{"title":null,"labelAngle":-20,"labelFontSize":10,"ticks":false,"labelPadding":6}}},
"layer":[
{"mark":{"type":"bar","color":"#808080"},"encoding":{"y":{"field":"v","type":"quantitative","scale":{"domain":[0.5,3.5],"nice":false,"zero":false},"axis":{"title":"I    / μA","values":[0.5,1,1.5,2,2.5,3,3.5],"format":".1f","labelFontSize":11,"titleFontSize":13,"tickSize":5,"titlePadding":8,"labelOverlap":false}},"y2":{"datum":0.5}}},
{"mark":{"type":"rule","color":"#111","strokeWidth":1.5},"encoding":{"y":{"field":"lo","type":"quantitative","axis":{"title":"I    / μA","values":[0.5,1,1.5,2,2.5,3,3.5],"format":".1f","labelFontSize":11,"titleFontSize":13,"tickSize":5,"titlePadding":8,"labelOverlap":false}},"y2":{"field":"hi"}}},
{"mark":{"type":"tick","color":"#111","thickness":1.5,"size":8},"encoding":{"y":{"field":"lo","type":"quantitative","axis":{"title":"I    / μA","values":[0.5,1,1.5,2,2.5,3,3.5],"format":".1f","labelFontSize":11,"titleFontSize":13,"tickSize":5,"titlePadding":8,"labelOverlap":false}}}},
{"mark":{"type":"tick","color":"#111","thickness":1.5,"size":8},"encoding":{"y":{"field":"hi","type":"quantitative","axis":{"title":"I    / μA","values":[0.5,1,1.5,2,2.5,3,3.5],"format":".1f","labelFontSize":11,"titleFontSize":13,"tickSize":5,"titlePadding":8,"labelOverlap":false}}}}
]},
{"encoding":{"x":{"field":"x","type":"quantitative","scale":{"domain":[0,6],"nice":false,"zero":false},"axis":null}},
"layer":[
{"data":{"name":"hb"},"mark":{"type":"rule","color":"#333","strokeWidth":1},"encoding":{"x2":{"field":"x2"},"y":{"field":"y","type":"quantitative","axis":{"title":"I    / μA","values":[0.5,1,1.5,2,2.5,3,3.5],"format":".1f","labelFontSize":11,"titleFontSize":13,"tickSize":5,"titlePadding":8,"labelOverlap":false}},"y2":{"field":"y2"}}},
{"data":{"name":"hs"},"mark":{"type":"text","fontSize":14,"fontWeight":"bold","baseline":"alphabetic","dy":3,"color":"#111"},"encoding":{"y":{"field":"y","type":"quantitative","axis":{"title":"I    / μA","values":[0.5,1,1.5,2,2.5,3,3.5],"format":".1f","labelFontSize":11,"titleFontSize":13,"tickSize":5,"titlePadding":8,"labelOverlap":false}},"text":{"field":"t"}}},
{"data":{"name":"hp"},"mark":{"type":"text","fontSize":8,"angle":270,"baseline":"middle","align":"center","color":"#222"},"encoding":{"y":{"field":"y","type":"quantitative","axis":{"title":"I    / μA","values":[0.5,1,1.5,2,2.5,3,3.5],"format":".1f","labelFontSize":11,"titleFontSize":13,"tickSize":5,"titlePadding":8,"labelOverlap":false}},"text":{"field":"t"}}}
]}
],"resolve":{"scale":{"x":"independent"}}}
],"spacing":74,"bounds":"flush"}
],"spacing":0,"bounds":"flush"}
],
"spacing":15.5,"bounds":"full",
"resolve":{"scale":{"strokeDash":"independent"}},
"config":{
"font":"Liberation Sans",
"locale":{"number":{"decimal":".","thousands":",","grouping":[3],"currency":["$",""],"minus":"-"}},
"view":{"stroke":"#333","strokeWidth":1},
"title":{"fontSize":30,"font":"Liberation Sans","fontWeight":"normal","anchor":"start","frame":"group","color":"#111","baseline":"alphabetic","offset":0},
"axis":{"labelFont":"Liberation Sans","titleFont":"Liberation Sans","labelFontSize":6,"titleFontSize":8,"titleFontWeight":"normal","tickSize":3,"tickColor":"#333","domainColor":"#333","labelColor":"#222","titleColor":"#222","grid":false,"labelPadding":1.5,"titlePadding":3,"labelFlush":false,"labelOverlap":false},
"axisX":{"labelPadding":2.5,"titlePadding":7},
"axisY":{"titlePadding":9},
"legend":{"labelFont":"Liberation Sans","labelFontSize":7.5,"labelColor":"#222","symbolType":"M-1,0H3.5","symbolSize":64,"symbolStrokeWidth":1,"symbolStrokeColor":"#444","padding":2,"strokeColor":"#666","fillColor":"white","rowPadding":0.5,"labelOffset":12}
}
}
